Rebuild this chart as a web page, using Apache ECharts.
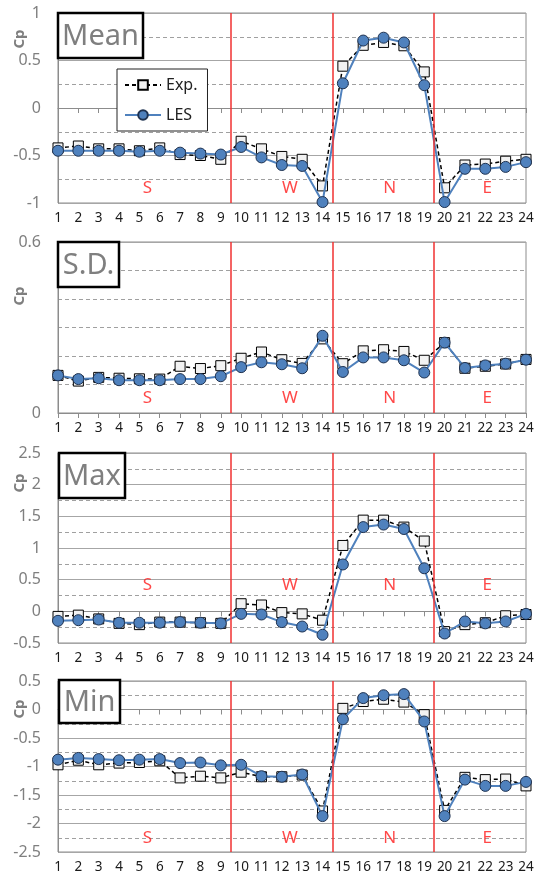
<!DOCTYPE html>
<html>
<head>
<meta charset="utf-8">
<script src="https://cdn.jsdelivr.net/npm/echarts@6/dist/echarts.min.js"></script>
<style>
html,body{margin:0;padding:0;background:#fff;}
#chart{width:542px;height:880px;}
</style>
</head>
<body>
<div id="chart"></div>
<script>
// ---- data ----
const taps = [1,2,3,4,5,6,7,8,9,10,11,12,13,14,15,16,17,18,19,20,21,22,23,24];
const panelNames = ['Mean','S.D.','Max','Min'];
const seriesNames = ['Exp.','LES'];
const meanExp = [-0.42,-0.40,-0.43,-0.43,-0.45,-0.42,-0.49,-0.50,-0.54,-0.35,-0.43,-0.51,-0.54,-0.82,0.44,0.66,0.69,0.655,0.38,-0.84,-0.60,-0.59,-0.56,-0.54];
const meanLes = [-0.45,-0.45,-0.45,-0.45,-0.46,-0.45,-0.47,-0.48,-0.49,-0.41,-0.52,-0.60,-0.61,-0.99,0.26,0.71,0.74,0.69,0.24,-0.99,-0.64,-0.64,-0.62,-0.57];
const sdExp = [0.132,0.112,0.125,0.122,0.120,0.119,0.164,0.156,0.166,0.192,0.214,0.187,0.174,0.260,0.173,0.218,0.222,0.216,0.185,0.247,0.157,0.164,0.172,0.188];
const sdLes = [0.132,0.119,0.122,0.115,0.115,0.115,0.119,0.119,0.129,0.161,0.178,0.171,0.157,0.271,0.144,0.195,0.195,0.185,0.142,0.247,0.158,0.167,0.173,0.187];
const maxExp = [-0.08,-0.06,-0.12,-0.19,-0.21,-0.17,-0.17,-0.18,-0.19,0.12,0.10,-0.02,-0.04,-0.14,1.04,1.44,1.44,1.33,1.11,-0.32,-0.21,-0.18,-0.07,-0.05];
const maxLes = [-0.15,-0.14,-0.13,-0.18,-0.18,-0.18,-0.17,-0.18,-0.19,-0.04,-0.05,-0.17,-0.24,-0.37,0.74,1.33,1.37,1.30,0.68,-0.35,-0.16,-0.19,-0.16,-0.04];
const minExp = [-0.97,-0.89,-0.97,-0.94,-0.93,-0.90,-1.20,-1.17,-1.20,-1.10,-1.18,-1.18,-1.15,-1.78,0.02,0.14,0.18,0.13,-0.09,-1.77,-1.19,-1.23,-1.22,-1.34];
const minLes = [-0.88,-0.85,-0.87,-0.89,-0.88,-0.87,-0.94,-0.93,-0.98,-0.97,-1.17,-1.18,-1.14,-1.87,-0.17,0.20,0.25,0.27,-0.21,-1.87,-1.23,-1.34,-1.34,-1.27];
const regionNames = ['S','W','N','E'];
const regionX = [5.4,12.4,17.3,22.1];
const regionY = [-0.84,0.053,0.41,-2.26];   // height of the region letters in each panel
const dividers = [9.5,14.5,19.45];
const yMin = [-1,0,-0.5,-2.5];
const yMax = [1,0.6,2.5,0.5];
const yInterval = [0.5,0.6,0.5,0.5];
const yMinorSplit = [2,6,2,2];

// ---- layout ----
const gridTop = [13,242,453,681];
const gridH = [190,171,190,171];
const cpY = [39,296,483,709];
const boxes = [[58,13,85,45],[58,242,61,45],[59,453,66,45],[59,680,61,43]];

const expData = [meanExp,sdExp,maxExp,minExp];
const lesData = [meanLes,sdLes,maxLes,minLes];
const FONT = 'Noto Sans';

const grids=[],xAxes=[],yAxes=[],series=[],graphics=[];
for(let p=0;p<4;p++){
  grids.push({left:58,width:468,top:gridTop[p],height:gridH[p],show:true,borderColor:'#8c8c8c',borderWidth:1,backgroundColor:'#fff'});
  xAxes.push({type:'value',gridIndex:p,min:1,max:24,interval:1,
    axisLine:{show:true,lineStyle:{color:'#8c8c8c'}},
    axisTick:{show:true,length:5,inside:false,lineStyle:{color:'#8c8c8c'}},
    axisLabel:{color:'#1a1a1a',fontSize:13.5,fontFamily:FONT,margin:8},
    splitLine:{show:false}});
  yAxes.push({type:'value',gridIndex:p,min:yMin[p],max:yMax[p],interval:yInterval[p],
    axisLine:{show:true,lineStyle:{color:'#8c8c8c'}},
    axisTick:{show:false},
    axisLabel:{color:'#7f7f7f',fontSize:16,fontFamily:FONT,margin:17},
    splitLine:{show:true,lineStyle:{color:'#a6a6a6',width:1}},
    minorTick:{show:false,splitNumber:yMinorSplit[p]},
    minorSplitLine:{show:true,lineStyle:{color:'#a0a0a0',type:[4,3],width:1}}});
  series.push({name:seriesNames[0],type:'line',xAxisIndex:p,yAxisIndex:p,
    data:taps.map((t,i)=>[t,expData[p][i]]),
    symbol:'rect',symbolSize:10,
    itemStyle:{color:'#f2f2f2',borderColor:'#000',borderWidth:1},
    lineStyle:{color:'#000',width:1.5,type:[4,3]},
    z:3,
    markLine:{silent:true,symbol:'none',label:{show:false},
      lineStyle:{color:'#f03030',width:1.5,type:'solid'},
      data:dividers.map(d=>({xAxis:d}))}});
  series.push({name:seriesNames[1],type:'line',xAxisIndex:p,yAxisIndex:p,
    data:taps.map((t,i)=>[t,lesData[p][i]]),
    symbol:'circle',symbolSize:11,
    itemStyle:{color:'#4f81bd',borderColor:'#1f3250',borderWidth:1},
    lineStyle:{color:'#4f81bd',width:2},
    z:4});
  series.push({type:'scatter',xAxisIndex:p,yAxisIndex:p,symbolSize:0,silent:true,
    data:regionNames.map((n,i)=>({value:[regionX[i],regionY[p]],name:n})),
    label:{show:true,position:'inside',formatter:q=>q.name,color:'#ff1a1a',fontSize:17,fontFamily:FONT},
    z:2});
  const b=boxes[p];
  graphics.push({type:'rect',shape:{x:b[0],y:b[1],width:b[2],height:b[3]},
    style:{fill:'#fff',stroke:'#000',lineWidth:2.5},z:100});
  graphics.push({type:'text',x:b[0]+b[2]/2,y:b[1]+b[3]/2+1,
    style:{text:panelNames[p],fill:'#7f7f7f',font:'29px "'+FONT+'"',textAlign:'center',textVerticalAlign:'middle'},z:101});
  graphics.push({type:'text',x:20,y:cpY[p],rotation:Math.PI/2,
    style:{text:'Cp',fill:'#7f7f7f',font:'bold 15px "'+FONT+'"',textAlign:'center',textVerticalAlign:'middle'},z:101});
}

const chart = echarts.init(document.getElementById('chart'),null,{renderer:'canvas'});
chart.setOption({
  animation:false,
  backgroundColor:'#fff',
  grid:grids,xAxis:xAxes,yAxis:yAxes,series:series,graphic:graphics,
  legend:{data:seriesNames,orient:'vertical',left:117,top:69,width:85,
    backgroundColor:'#fff',borderColor:'#222',borderWidth:1,
    padding:[8,10,8,7],itemGap:14,itemWidth:36,itemHeight:12,
    textStyle:{fontSize:16,color:'#222',fontFamily:FONT}}
});
</script>
</body>
</html>
